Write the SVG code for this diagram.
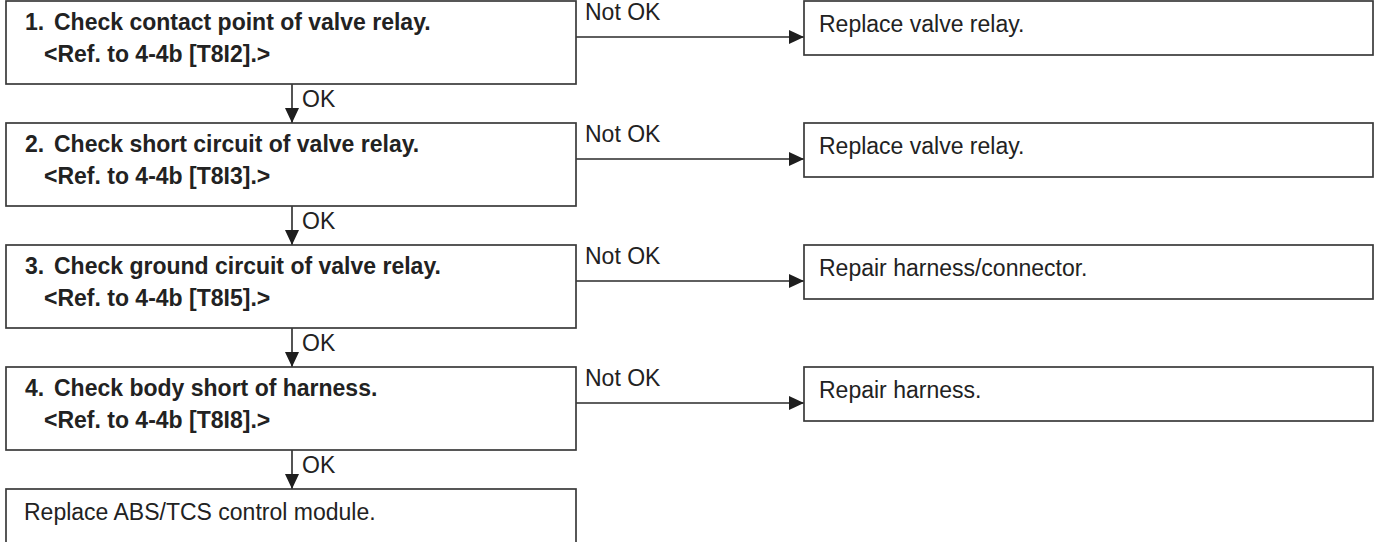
<svg xmlns="http://www.w3.org/2000/svg" width="1375" height="542" viewBox="0 0 1375 542">
  <style>
    .box { fill: #ffffff; stroke: #3a3a3a; stroke-width: 1.7; }
    .step { font-family: "Liberation Sans", Arial, sans-serif; font-size: 23px; font-weight: bold; fill: #222222; }
    .act { font-family: "Liberation Sans", Arial, sans-serif; font-size: 23px; fill: #222222; }
    .lbl { font-family: "Liberation Sans", Arial, sans-serif; font-size: 23px; fill: #222222; }
    .wire { stroke: #2a2a2a; stroke-width: 1.6; fill: none; }
  </style>
  <defs>
    <marker id="head" viewBox="0 0 15 14" refX="15" refY="7" markerWidth="15" markerHeight="14" markerUnits="userSpaceOnUse" orient="auto">
      <path d="M0,0 L15,7 L0,14 Z" fill="#1e1e1e"/>
    </marker>
  </defs>
  <rect width="1375" height="542" fill="#ffffff"/>

  <!-- connectors -->
  <g id="connectors">
    <path class="wire" d="M576,37 H804" marker-end="url(#head)"/>
    <path class="wire" d="M576,159 H804" marker-end="url(#head)"/>
    <path class="wire" d="M576,281 H804" marker-end="url(#head)"/>
    <path class="wire" d="M576,403 H804" marker-end="url(#head)"/>
    <path class="wire" d="M292,84 V123" marker-end="url(#head)"/>
    <path class="wire" d="M292,206 V245" marker-end="url(#head)"/>
    <path class="wire" d="M292,328 V367" marker-end="url(#head)"/>
    <path class="wire" d="M292,450 V489" marker-end="url(#head)"/>
    <text class="lbl" x="585" y="20">Not OK</text>
    <text class="lbl" x="585" y="142">Not OK</text>
    <text class="lbl" x="585" y="264">Not OK</text>
    <text class="lbl" x="585" y="386">Not OK</text>
    <text class="lbl" x="302" y="107">OK</text>
    <text class="lbl" x="302" y="229">OK</text>
    <text class="lbl" x="302" y="351">OK</text>
    <text class="lbl" x="302" y="473">OK</text>
  </g>

  <!-- check steps -->
  <g id="step1">
    <rect class="box" x="6" y="1" width="570" height="83"/>
    <text class="step" y="30"><tspan x="25">1.</tspan><tspan x="54">Check contact point of valve relay.</tspan></text>
    <text class="step" x="44" y="62">&lt;Ref. to 4-4b [T8I2].&gt;</text>
  </g>
  <g id="step2">
    <rect class="box" x="6" y="123" width="570" height="83"/>
    <text class="step" y="152"><tspan x="25">2.</tspan><tspan x="54">Check short circuit of valve relay.</tspan></text>
    <text class="step" x="44" y="184">&lt;Ref. to 4-4b [T8I3].&gt;</text>
  </g>
  <g id="step3">
    <rect class="box" x="6" y="245" width="570" height="83"/>
    <text class="step" y="274"><tspan x="25">3.</tspan><tspan x="54">Check ground circuit of valve relay.</tspan></text>
    <text class="step" x="44" y="306">&lt;Ref. to 4-4b [T8I5].&gt;</text>
  </g>
  <g id="step4">
    <rect class="box" x="6" y="367" width="570" height="83"/>
    <text class="step" y="396"><tspan x="25">4.</tspan><tspan x="54">Check body short of harness.</tspan></text>
    <text class="step" x="44" y="428">&lt;Ref. to 4-4b [T8I8].&gt;</text>
  </g>
  <g id="final">
    <rect class="box" x="6" y="489" width="570" height="60"/>
    <text class="act" x="24" y="520">Replace ABS/TCS control module.</text>
  </g>

  <!-- remedies -->
  <g id="fix1">
    <rect class="box" x="804" y="1" width="569" height="54"/>
    <text class="act" x="819" y="32">Replace valve relay.</text>
  </g>
  <g id="fix2">
    <rect class="box" x="804" y="123" width="569" height="54"/>
    <text class="act" x="819" y="154">Replace valve relay.</text>
  </g>
  <g id="fix3">
    <rect class="box" x="804" y="245" width="569" height="54"/>
    <text class="act" x="819" y="276">Repair harness/connector.</text>
  </g>
  <g id="fix4">
    <rect class="box" x="804" y="367" width="569" height="54"/>
    <text class="act" x="819" y="398">Repair harness.</text>
  </g>
</svg>
